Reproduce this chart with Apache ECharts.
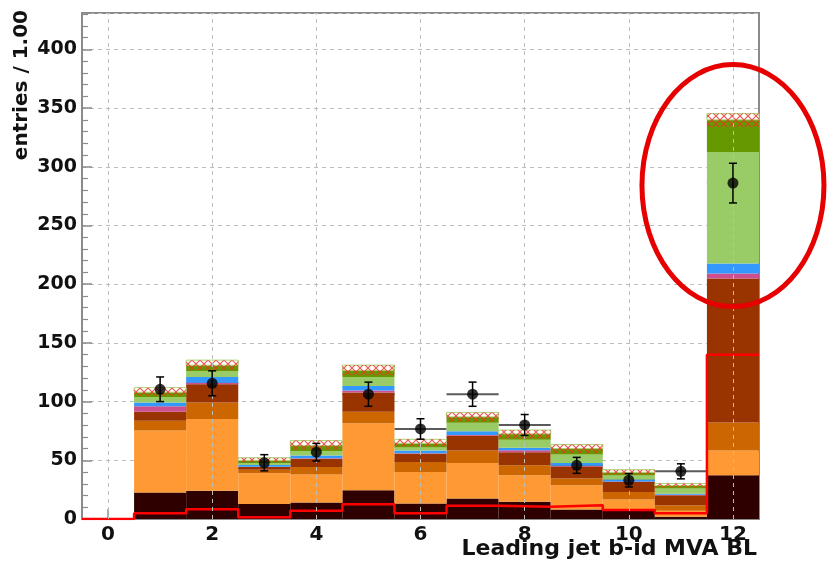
<!DOCTYPE html>
<html>
<head>
<meta charset="utf-8">
<script src="https://cdn.jsdelivr.net/npm/echarts@6/dist/echarts.min.js"></script>
<style>
  html, body { margin: 0; padding: 0; background: #ffffff; }
  #chart { width: 828px; height: 576px; }
</style>
</head>
<body>
<div id="chart"></div>
<script>
// ---- histogram binning: unit-width bins centred on the integers 0..12
const binCenters = [0, 1, 2, 3, 4, 5, 6, 7, 8, 9, 10, 11, 12];
const xTickValues = [0, 2, 4, 6, 8, 10, 12];
const yMax = 431;

// ---- stacked background components (entries per bin, bottom to top)
const bkgDarkBrown   = [0, 22.6, 24.0, 12.7, 14.1, 24.5, 13.2, 17.5, 14.6, 8.0, 7.0, 2.0, 37.2];
const bkgLightOrange = [0, 52.7, 61.1, 26.3, 23.7, 57.0, 26.8, 30.1, 22.6, 20.8, 9.6, 5.0, 21.2];
const bkgDarkOrange  = [0, 8.4, 14.1, 3.0, 6.4, 9.8, 8.5, 10.8, 8.5, 5.6, 6.5, 4.8, 23.9];
const bkgBrown       = [0, 7.6, 15.5, 2.5, 7.1, 16.4, 7.0, 12.6, 11.2, 10.4, 8.4, 8.5, 122.6];
const bkgPink        = [0, 4.7, 1.3, 0, 0.5, 1.8, 0.5, 0.5, 1.6, 0.5, 0.5, 0.3, 4.3];
const bkgBlue        = [0, 3.3, 4.9, 1.5, 2.3, 3.8, 2.4, 3.2, 2.1, 2.3, 1.6, 1.0, 8.4];
const bkgLightGreen  = [0, 4.7, 5.1, 2.0, 3.9, 7.7, 2.6, 7.3, 6.9, 7.4, 3.4, 4.4, 95.0];
const bkgDarkGreen   = [0, 4.0, 5.0, 2.0, 4.5, 5.5, 3.5, 5.0, 5.0, 5.0, 2.8, 2.5, 27.4];
const bkgUncertTop   = [0, 3.9, 4.3, 2.2, 4.3, 4.6, 3.4, 3.8, 3.3, 3.4, 2.2, 1.7, 5.3];
// height of the hatched uncertainty band, measured down from the stack top
const uncertBand     = [0, 6.9, 8.3, 3.7, 7.8, 8.6, 5.9, 7.8, 7.3, 7.4, 4.2, 3.4, 11.3];

// ---- signal histogram (red outline)
const signalValues = [0, 4.8, 8.2, 1.4, 7.0, 12.5, 4.8, 11.3, 10.4, 11.8, 7.6, 4.8, 140];

// ---- observed data with statistical errors
const dataBins   = [1, 2, 3, 4, 5, 6, 7, 8, 9, 10, 11, 12];
const dataValues = [110.5, 115.6, 47.9, 56.9, 106.3, 76.7, 106.3, 80.1, 45.7, 33.0, 40.6, 286.1];
const dataErrors = [10.5, 10.6, 6.9, 7.5, 10.3, 8.7, 10.3, 8.9, 6.8, 5.7, 6.4, 16.9];

// ---- styling
const layers = [
  { values: bkgDarkBrown,   color: '#2e0000' },
  { values: bkgLightOrange, color: '#ff9933' },
  { values: bkgDarkOrange,  color: '#cc6600' },
  { values: bkgBrown,       color: '#993300' },
  { values: bkgPink,        color: '#cc4f8e' },
  { values: bkgBlue,        color: '#3399ff' },
  { values: bkgLightGreen,  color: '#99cc66' },
  { values: bkgDarkGreen,   color: '#669900' },
  { values: bkgUncertTop,   color: '#ffffff', stroke: '#a8d47a' }
];
const FONT = 'DejaVu Sans';

// red cross-hatch tile for the uncertainty band
function makeHatch() {
  const c = document.createElement('canvas');
  c.width = 8; c.height = 8;
  const g = c.getContext('2d');
  g.strokeStyle = 'rgba(240,50,40,0.85)';
  g.lineWidth = 1.1;
  g.beginPath();
  g.moveTo(0, 0); g.lineTo(8, 8);
  g.moveTo(8, 0); g.lineTo(0, 8);
  g.stroke();
  return c;
}
const hatchTile = makeHatch();

// cumulative stacking
const stackBase = binCenters.map(() => 0);
const layerSeries = layers.map((layer) => {
  const rows = binCenters.map((x, i) => {
    const lo = stackBase[i];
    const hi = lo + layer.values[i];
    stackBase[i] = hi;
    return [x, lo, hi];
  });
  return {
    type: 'custom',
    z: 2,
    silent: true,
    encode: { x: 0, y: [1, 2] },
    data: rows,
    renderItem: function (params, api) {
      const x = api.value(0), lo = api.value(1), hi = api.value(2);
      if (hi - lo <= 0) return null;
      const p0 = api.coord([x - 0.5, hi]);
      const p1 = api.coord([x + 0.5, lo]);
      return {
        type: 'rect',
        shape: { x: p0[0], y: p0[1], width: p1[0] - p0[0], height: p1[1] - p0[1] },
        style: layer.stroke
          ? { fill: layer.color, stroke: layer.stroke, lineWidth: 1 }
          : { fill: layer.color }
      };
    }
  };
});

// hatched band rows: from (top - band) to top
const bandRows = binCenters.map((x, i) => [x, stackBase[i] - uncertBand[i], stackBase[i]]);

// signal outline through bin edges
const signalLine = [];
binCenters.forEach((x, i) => {
  signalLine.push([x - 0.5, signalValues[i]]);
  signalLine.push([x + 0.5, signalValues[i]]);
});

const chart = echarts.init(document.getElementById('chart'), null, { renderer: 'canvas' });

const option = {
  animation: false,
  backgroundColor: '#ffffff',
  grid: {
    left: 82, right: 69, top: 13, bottom: 57,
    show: true, borderColor: '#8a8a8a', borderWidth: 2, backgroundColor: 'transparent'
  },
  xAxis: {
    type: 'value',
    min: -0.5,
    max: 12.5,
    axisLine: { show: true, onZero: false, lineStyle: { color: '#8a8a8a', width: 2 } },
    axisTick: { show: true, inside: true, length: 10, customValues: xTickValues,
                lineStyle: { color: '#8a8a8a', width: 1.5 } },
    axisLabel: { customValues: xTickValues, margin: 6, color: '#111',
                 fontFamily: FONT, fontWeight: 'bold', fontSize: 20 },
    splitLine: { show: false }
  },
  yAxis: {
    type: 'value',
    min: 0,
    max: yMax,
    interval: 50,
    axisLine: { show: true, onZero: false, lineStyle: { color: '#8a8a8a', width: 2 } },
    axisTick: { show: true, inside: true, length: 10, lineStyle: { color: '#8a8a8a', width: 1.5 } },
    minorTick: { show: true, splitNumber: 5, length: 6, lineStyle: { color: '#8a8a8a', width: 1.2 } },
    axisLabel: { margin: 5, color: '#111', showMaxLabel: false,
                 fontFamily: FONT, fontWeight: 'bold', fontSize: 19 },
    splitLine: { show: true, lineStyle: { color: '#bdbdbd', type: [4, 4], width: 1 } }
  },
  series: [
    // vertical dashed grid at the labelled x positions (behind the stack)
    {
      type: 'line',
      z: 0,
      data: [],
      markLine: {
        silent: true,
        symbol: 'none',
        label: { show: false },
        lineStyle: { color: '#bdbdbd', type: [4, 4], width: 1 },
        data: xTickValues.map(v => ({ xAxis: v }))
      }
    },
    // horizontal data error bars sit behind the stack
    {
      type: 'custom',
      z: 1,
      silent: true,
      encode: { x: 0, y: 1 },
      data: dataBins.map((x, i) => [x, dataValues[i]]),
      renderItem: function (params, api) {
        const x = api.value(0), y = api.value(1);
        const pl = api.coord([x - 0.5, y]);
        const pr = api.coord([x + 0.5, y]);
        return { type: 'line', shape: { x1: pl[0], y1: pl[1], x2: pr[0], y2: pr[1] },
                 style: { stroke: '#5a5a5a', lineWidth: 2 } };
      }
    },
    ...layerSeries,
    // hatched uncertainty band
    {
      type: 'custom',
      z: 3,
      silent: true,
      encode: { x: 0, y: [1, 2] },
      data: bandRows,
      renderItem: function (params, api) {
        const x = api.value(0), lo = api.value(1), hi = api.value(2);
        if (hi - lo <= 0) return null;
        const p0 = api.coord([x - 0.5, hi]);
        const p1 = api.coord([x + 0.5, lo]);
        return {
          type: 'rect',
          shape: { x: p0[0], y: p0[1], width: p1[0] - p0[0], height: p1[1] - p0[1] },
          style: { fill: { image: hatchTile, repeat: 'repeat' } }
        };
      }
    },
    // signal histogram outline
    {
      type: 'line',
      z: 4,
      silent: true,
      data: signalLine,
      symbol: 'none',
      lineStyle: { color: '#ff0000', width: 2.5 }
    },
    // vertical data error bars
    {
      type: 'custom',
      z: 5,
      silent: true,
      encode: { x: 0, y: 1 },
      data: dataBins.map((x, i) => [x, dataValues[i], dataErrors[i]]),
      renderItem: function (params, api) {
        const x = api.value(0), y = api.value(1), e = api.value(2);
        const pt = api.coord([x, y + e]);
        const pb = api.coord([x, y - e]);
        const cap = 4;
        return {
          type: 'group',
          children: [
            { type: 'line', shape: { x1: pt[0], y1: pt[1], x2: pb[0], y2: pb[1] },
              style: { stroke: '#000', lineWidth: 1.5 } },
            { type: 'line', shape: { x1: pt[0] - cap, y1: pt[1], x2: pt[0] + cap, y2: pt[1] },
              style: { stroke: '#000', lineWidth: 1.5 } },
            { type: 'line', shape: { x1: pb[0] - cap, y1: pb[1], x2: pb[0] + cap, y2: pb[1] },
              style: { stroke: '#000', lineWidth: 1.5 } }
          ]
        };
      }
    },
    // data points
    {
      type: 'scatter',
      z: 6,
      silent: true,
      symbol: 'circle',
      symbolSize: 11,
      itemStyle: { color: '#000' },
      data: dataBins.map((x, i) => [x, dataValues[i]])
    }
  ],
  graphic: [
    {
      id: 'ytitle',
      type: 'text',
      x: 22, y: 10,
      rotation: Math.PI / 2,
      style: { text: 'entries / 1.00', fill: '#111', font: 'bold 20px "DejaVu Sans"',
               align: 'right', verticalAlign: 'middle' }
    },
    {
      id: 'xtitle',
      type: 'text',
      x: 757, y: 549,
      style: { text: 'Leading jet b-id MVA BL', fill: '#111', font: 'bold 22px "DejaVu Sans"',
               align: 'right', verticalAlign: 'middle' }
    }
  ]
};

chart.setOption(option);

// highlight ring around the last bin
const ringCenter = chart.convertToPixel({ xAxisIndex: 0, yAxisIndex: 0 }, [12, 284]);
chart.setOption({
  graphic: [
    {
      id: 'ring',
      type: 'ellipse',
      z: 100,
      shape: { cx: ringCenter[0], cy: ringCenter[1], rx: 91, ry: 121 },
      style: { fill: 'none', stroke: '#e60000', lineWidth: 5 }
    }
  ]
});
</script>
</body>
</html>
